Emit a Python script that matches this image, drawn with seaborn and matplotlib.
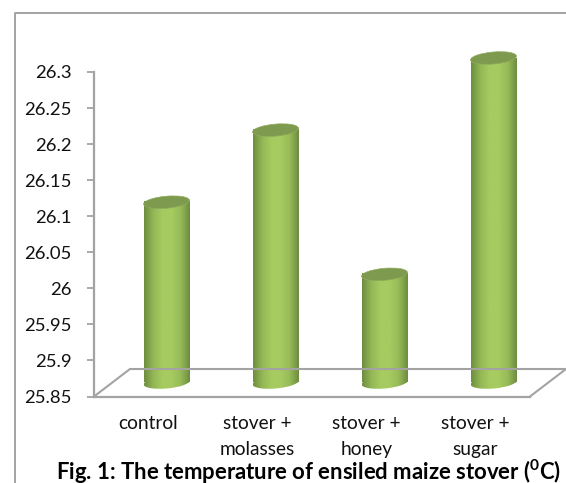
import matplotlib
matplotlib.use("Agg")
import matplotlib.pyplot as plt
import seaborn as sns
import numpy as np
from matplotlib.colors import LinearSegmentedColormap
from matplotlib.lines import Line2D
from matplotlib.patches import Ellipse
from matplotlib.transforms import IdentityTransform

categories = ['control', 'stover +\nmolasses', 'stover +\nhoney', 'stover +\nsugar']
temperature = [26.1, 26.2, 26.0, 26.3]
y_ticks = [25.85, 25.9, 25.95, 26, 26.05, 26.1, 26.15, 26.2, 26.25, 26.3]
y_tick_labels = ['25.85', '25.9', '25.95', '26', '26.05', '26.1', '26.15', '26.2', '26.25', '26.3']
title = r'Fig. 1: The temperature of ensiled maize stover ($\mathbf{^{0}}$C)'

W, H = 566, 483
GRAY = '#A3A3A3'

sns.set_style('white')
plt.rcParams['font.family'] = ['Lato', 'DejaVu Sans']
plt.rcParams['mathtext.fontset'] = 'custom'
plt.rcParams['mathtext.bf'] = 'Lato:bold'

fig = plt.figure(figsize=(W / 100, H / 100), dpi=100)


def box(left, top, right, bottom):
    # pixel box of the picture -> figure fractions
    return [left / W, 1 - bottom / H, (right - left) / W, (bottom - top) / H]


# outer frame of the chart (left and top only show in the crop)
fig.add_artist(Line2D([14.5 / W, 14.5 / W, 1], [0, 1 - 13 / H, 1 - 13 / H], color=GRAY, lw=1.4))

# front plane: axis, ticks, labels
ax = fig.add_axes(box(94, 72, 530, 396.5))
ax.set_facecolor('none')
ax.set_xlim(-0.5, 3.5)
ax.set_ylim(25.85, 26.3)
ax.set_yticks(y_ticks)
ax.set_yticklabels(y_tick_labels, fontsize=13.3, color='#111111')
ax.set_xticks(range(len(categories)))
ax.set_xticklabels(categories, fontsize=13.8, color='#111111', linespacing=1.62)
ax.set_xticks(np.arange(-0.5, 4, 1), minor=True)
ax.tick_params(axis='x', which='major', length=0, pad=13.5)
ax.tick_params(axis='x', which='minor', length=4, width=1.3, color=GRAY)
ax.tick_params(axis='y', which='major', left=True, length=5, width=1.3, color=GRAY, pad=11)
sns.despine(ax=ax, top=True, right=True)
for side in ['left', 'bottom']:
    ax.spines[side].set_color(GRAY)
    ax.spines[side].set_linewidth(1.6)

# floor of the 3d box
fig.add_artist(Line2D(np.array([94, 130, 566, 530]) / W,
                      1 - np.array([396.5, 369, 369, 396.5]) / H, color=GRAY, lw=1.5))

# bars sit half way back on the floor
ax2 = fig.add_axes(box(112, 58, 548, 382.5))
ax2.patch.set_alpha(0)
sns.barplot(x=categories, y=temperature, ax=ax2, width=0.42, color='#A4C95F', saturation=1)
ax2.set_xlim(-0.5, 3.5)
ax2.set_ylim(25.85, 26.3)
ax2.axis('off')

cyl = LinearSegmentedColormap.from_list('cyl', ['#6E8D40', '#93B755', '#A6CB60', '#A6CB60', '#97BB58', '#6E8C40'])
shade = np.linspace(0, 1, 128).reshape(1, -1)
EW, EH, ANGLE = 46, 12, 5
px = IdentityTransform()

for bar, val in zip(ax2.patches, temperature):
    x0, x1 = bar.get_x(), bar.get_x() + bar.get_width()
    xc = (x0 + x1) / 2
    ax2.imshow(shade, cmap=cyl, extent=(x0, x1, 25.85, val), aspect='auto', zorder=3)
    # rounded foot, same shading clipped to an ellipse
    cx, cy = ax2.transData.transform((xc, 25.85))
    foot = Ellipse((cx, cy), EW, EH, angle=ANGLE, transform=px, facecolor='none', edgecolor='none')
    img = ax2.imshow(shade, cmap=cyl, extent=(x0, x1, 25.82, 25.87), aspect='auto', zorder=3)
    img.set_clip_box(fig.bbox)
    img.set_clip_path(foot)
    # top cap
    tx, ty = ax2.transData.transform((xc, val))
    cap = Ellipse((tx, ty), EW, EH, angle=ANGLE, transform=px, facecolor='#7E9A4E', edgecolor='#8FAA5C',
                  lw=0.5, zorder=5, clip_on=False)
    ax2.add_patch(cap)

ax2.set_xlim(-0.5, 3.5)
ax2.set_ylim(25.85, 26.3)

fig.text(561 / W, 1 - 472 / H, title, ha='right', va='center', fontsize=15.9, fontweight='bold', color='black')

fig.savefig('out.png', dpi=100)
